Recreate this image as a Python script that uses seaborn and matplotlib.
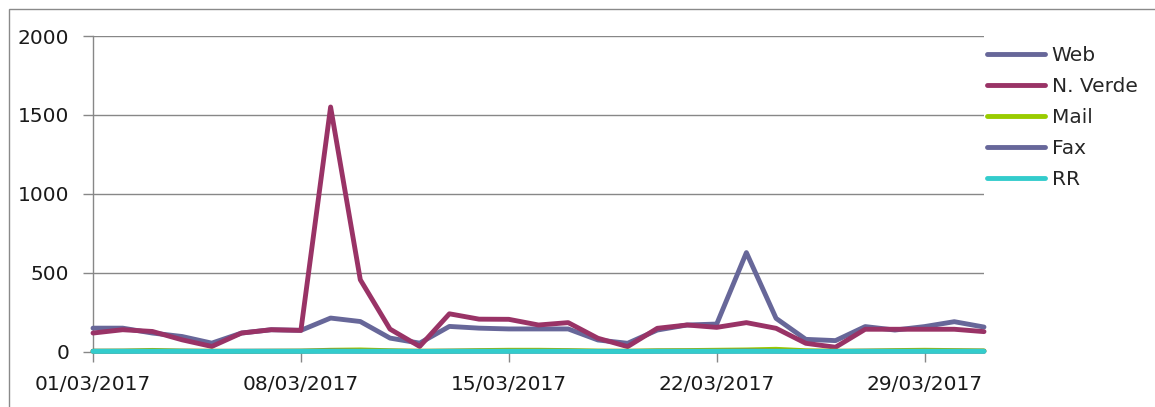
import numpy as np
import pandas as pd
import matplotlib
matplotlib.use("Agg")
import matplotlib.pyplot as plt
import matplotlib.dates as mdates
from matplotlib.patches import Rectangle
import seaborn as sns

# daily counts, March 2017
days = pd.date_range("2017-03-01", "2017-03-31", freq="D")
web = [148, 148, 117, 95, 53, 117, 138, 134, 212, 190, 85, 53, 159, 148, 143,
       143, 143, 73, 52, 136, 168, 174, 627, 210, 77, 69, 158, 136, 158, 189, 155]
nverde = [117, 138, 127, 74, 32, 117, 138, 134, 1550, 455, 142, 32, 239, 205, 204,
          168, 183, 84, 31, 147, 168, 153, 183, 147, 52, 27, 141, 141, 141, 141, 126]
mail = [2, 3, 7, 3, 2, 1, 2, 3, 8, 10, 5, 2, 3, 6, 8,
        8, 6, 3, 2, 5, 6, 8, 10, 14, 5, 2, 3, 6, 8, 6, 4]
fax = [2, 2, 2, 2, 1, 2, 2, 2, 3, 2, 2, 1, 2, 2, 2,
       2, 2, 1, 1, 2, 2, 2, 3, 2, 1, 1, 2, 2, 2, 2, 2]
rr = [1, 1, 1, 1, 0, 1, 1, 1, 1, 1, 1, 0, 1, 1, 1,
      1, 1, 0, 0, 1, 1, 1, 1, 1, 0, 0, 1, 1, 1, 1, 1]

seriesNames = ["Web", "N. Verde", "Mail", "Fax", "RR"]
seriesColors = ["#676799", "#993366", "#99cc00", "#67679a", "#33cccc"]
tickDays = ["2017-03-01", "2017-03-08", "2017-03-15", "2017-03-22", "2017-03-29"]

frames = []
for name, vals in zip(seriesNames, [web, nverde, mail, fax, rr]):
    frames.append(pd.DataFrame({"day": days, "count": vals, "canale": name}))
df = pd.concat(frames, ignore_index=True)

sns.set_style("white")
plt.rcParams['font.family'] = ['DejaVu Sans']
gridGray = "#878787"
lw = 3.5

fig = plt.figure(figsize=(11.55, 4.07), dpi=100)
ax = fig.add_axes([93/1155, 1-351.5/407, (984-93)/1155, (351.5-36)/407])

sns.lineplot(data=df, x="day", y="count", hue="canale", hue_order=seriesNames,
             palette=dict(zip(seriesNames, seriesColors)), linewidth=lw, ax=ax)
# data lines only (legend proxies have no data); later series sit on top
dataLines = [l for l in ax.get_lines() if len(l.get_xdata()) > 0]
for i, line in enumerate(dataLines):
    line.set_zorder(3 + i)
    line.set_clip_on(False)

ax.set_xlim(days[0], days[-1])
ax.set_ylim(0, 2000)
ax.set_yticks([0, 500, 1000, 1500, 2000])
ax.set_xticks(pd.to_datetime(tickDays))
ax.xaxis.set_major_formatter(mdates.DateFormatter("%d/%m/%Y"))
ax.set_xlabel("")
ax.set_ylabel("")
ax.yaxis.grid(True, color=gridGray, lw=1)
ax.set_axisbelow(True)
for side in ["top", "right"]:
    ax.spines[side].set_visible(False)
for side in ["left", "bottom"]:
    ax.spines[side].set_color(gridGray)
    ax.spines[side].set_linewidth(1)
ax.tick_params(axis="both", direction="out", length=7, width=1, color=gridGray,
               labelsize=14.5, labelcolor="#1a1a1a")
ax.tick_params(axis="y", pad=10)
ax.tick_params(axis="x", pad=10)
ax.tick_params(left=True, bottom=True)

handles, labels = ax.get_legend_handles_labels()
ax.legend(handles, labels, loc="upper left", bbox_to_anchor=(979/1155, 1-38/407),
          bbox_transform=fig.transFigure, frameon=False, fontsize=14.5,
          handlelength=2.9, handletextpad=0.3, labelspacing=0.6, borderaxespad=0)
for line in ax.get_legend().get_lines():
    line.set_linewidth(lw)

# chart area border (only left and top edges are in view)
fig.add_artist(Rectangle((9/1155, -0.2), 1.5, 1.2 - 9/407, transform=fig.transFigure,
                         fill=False, ec="#8a8a8a", lw=1))

fig.savefig("out.png", dpi=100)
